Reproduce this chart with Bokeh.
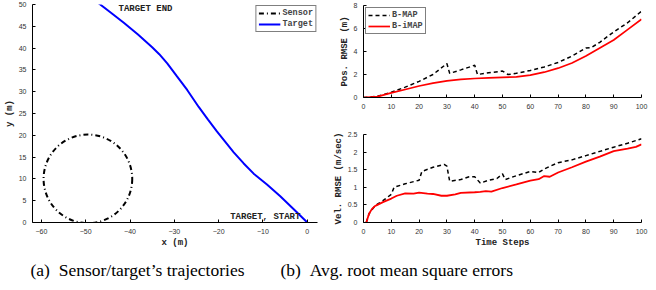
from bokeh.plotting import figure
from bokeh.layouts import row, column
from bokeh.models import (Range1d, SingleIntervalTicker, CustomJSTickFormatter, Label, Legend)
from bokeh.embed import file_html
from bokeh.resources import INLINE

# ---------------- data ----------------
target_x = [0, -3, -6.1, -9.1, -12.1, -14.4, -16.6, -18.5, -20.4, -22.4, -24.5, -27.1, -29.4, -31.6, -33.4, -35, -38.2, -41.4, -44.3, -47.1]
target_y = [0, 3.0, 6.0, 8.7, 11.2, 13.6, 16.1, 18.5, 20.9, 23.6, 26.5, 30.4, 33.5, 36.5, 38.6, 40.2, 43.1, 45.8, 48.1, 50.3]
sensor_center_x = [-49.5]
sensor_center_y = [10]
sensor_radius = [10]

bmap_pos_t = [0, 5, 10, 15, 20, 25, 30, 31, 35, 40, 41, 45, 50, 52, 55, 60, 65, 70, 75, 80, 82, 85, 90, 95, 100]
bmap_pos = [0, 0.1, 0.45, 0.9, 1.4, 2.0, 2.95, 2.1, 2.4, 2.8, 2.0, 2.15, 2.3, 2.0, 2.1, 2.35, 2.65, 3.05, 3.6, 4.3, 4.35, 4.8, 5.7, 6.5, 7.5]
imap_pos_t = [0, 5, 10, 15, 20, 25, 30, 35, 40, 45, 50, 55, 60, 65, 70, 75, 80, 85, 90, 95, 100]
imap_pos = [0, 0.08, 0.4, 0.7, 1.0, 1.25, 1.45, 1.57, 1.65, 1.7, 1.75, 1.8, 1.95, 2.2, 2.55, 3.0, 3.6, 4.3, 5.0, 5.9, 6.8]

bmap_vel_t = [1, 2, 4, 5, 7, 10, 11, 15, 20, 21, 25, 29, 30, 31, 35, 38, 40, 42, 45, 48, 50, 51, 55, 60, 63, 65, 70, 75, 80, 85, 90, 95, 100]
bmap_vel = [0, 0.25, 0.46, 0.52, 0.62, 0.8, 1.0, 1.1, 1.2, 1.45, 1.57, 1.65, 1.6, 1.17, 1.22, 1.3, 1.3, 1.12, 1.2, 1.25, 1.38, 1.22, 1.33, 1.45, 1.42, 1.52, 1.7, 1.78, 1.9, 2.02, 2.14, 2.25, 2.38]
imap_vel_t = [1, 2, 3, 4, 5, 7, 10, 12, 15, 18, 20, 23, 25, 28, 30, 33, 35, 40, 42, 44, 46, 50, 55, 60, 63, 65, 67, 70, 75, 80, 85, 90, 95, 98, 100]
imap_vel = [0, 0.25, 0.38, 0.46, 0.5, 0.58, 0.68, 0.76, 0.83, 0.82, 0.85, 0.82, 0.81, 0.76, 0.76, 0.8, 0.84, 0.86, 0.87, 0.89, 0.88, 0.98, 1.08, 1.19, 1.23, 1.32, 1.3, 1.42, 1.57, 1.73, 1.87, 2.03, 2.1, 2.15, 2.22]

caption_a = "(a)\u00a0\u00a0Sensor/target\u2019s trajectories"
caption_b = "(b)\u00a0\u00a0Avg. root mean square errors"

MONO = "Liberation Mono"
NAN = float("nan")


def style(p):
    p.outline_line_color = None
    p.grid.grid_line_color = None
    p.background_fill_color = "white"
    p.border_fill_color = "white"
    for ax in p.axis:
        ax.axis_line_color = "black"
        ax.axis_line_width = 1
        ax.major_tick_in = 3
        ax.major_tick_out = 0
        ax.major_tick_line_color = "black"
        ax.minor_tick_line_color = None
        ax.major_label_text_font = "Liberation Sans"
        ax.major_label_text_font_size = "7px"
        ax.major_label_text_color = "#333333"
        ax.major_label_standoff = 2
        ax.axis_label_text_font = MONO
        ax.axis_label_text_font_style = "bold"
        ax.axis_label_text_font_size = "9px"
        ax.axis_label_text_color = "#222222"
        ax.axis_label_standoff = 1


def style_legend(lg):
    lg.label_text_font = MONO
    lg.label_text_font_style = "bold"
    lg.label_text_font_size = "8.5px"
    lg.label_height = 8
    lg.glyph_height = 8
    lg.glyph_width = 22
    lg.label_standoff = 2
    lg.spacing = 1
    lg.padding = 2
    lg.margin = 1
    lg.border_line_color = "black"
    lg.border_line_width = 1.2
    lg.background_fill_alpha = 1


# ---------------- left figure ----------------
pa = figure(width=330, height=250, output_backend="svg", toolbar_location=None,
            x_range=Range1d(-62, 2.3), y_range=Range1d(0, 50),
            min_border_left=32, min_border_right=13, min_border_top=4, min_border_bottom=23)
pa.xaxis.ticker = SingleIntervalTicker(interval=10)
pa.yaxis.ticker = SingleIntervalTicker(interval=5)
pa.xaxis.formatter = CustomJSTickFormatter(code="return (tick < 0 ? '\\u2212' : '') + Math.abs(tick);")
pa.xaxis.axis_label = "x (m)"
pa.yaxis.axis_label = "y (m)"
style(pa)

pa.circle(x=sensor_center_x, y=sensor_center_y, radius=sensor_radius, fill_color=None,
          line_color="black", line_width=2, line_dash="5 3 1 3")
r_sensor = pa.line(x=[NAN], y=[NAN], line_color="black", line_width=2, line_dash="5 3 1 3")
r_target = pa.line(x=target_x, y=target_y, line_color="#0000ff", line_width=2)
lga = Legend(items=[("Sensor", [r_sensor]), ("Target", [r_target])], location="top_right")
style_legend(lga)
pa.add_layout(lga)

pa.add_layout(Label(x=-42.6, y=48.9, text="TARGET END", text_font=MONO, text_font_style="bold",
                    text_font_size="9px", text_baseline="middle", text_color="#222222"))
pa.add_layout(Label(x=-17.4, y=1.3, text="TARGET, START", text_font=MONO, text_font_style="bold",
                    text_font_size="9px", text_baseline="middle", text_color="#222222"))

# ---------------- right top ----------------
pb = figure(width=326, height=115, output_backend="svg", toolbar_location=None,
            x_range=Range1d(0, 100), y_range=Range1d(0, 8),
            min_border_left=30, min_border_right=15, min_border_top=5, min_border_bottom=18)
pb.xaxis.ticker = SingleIntervalTicker(interval=10)
pb.yaxis.ticker = SingleIntervalTicker(interval=2)
pb.yaxis.axis_label = "Pos. RMSE (m)"
style(pb)
r1 = pb.line(x=bmap_pos_t, y=bmap_pos, line_color="black", line_width=1.5, line_dash="4 3")
r2 = pb.line(x=imap_pos_t, y=imap_pos, line_color="#ff0000", line_width=1.7)
lgb = Legend(items=[("B-MAP", [r1]), ("B-iMAP", [r2])], location="top_left")
style_legend(lgb)
lgb.margin = 2
pb.add_layout(lgb)

# ---------------- right bottom ----------------
pc = figure(width=326, height=135, output_backend="svg", toolbar_location=None,
            x_range=Range1d(0, 100), y_range=Range1d(0, 2.5),
            min_border_left=30, min_border_right=15, min_border_top=19, min_border_bottom=23)
pc.xaxis.ticker = SingleIntervalTicker(interval=10)
pc.yaxis.ticker = SingleIntervalTicker(interval=0.5)
pc.yaxis.formatter = CustomJSTickFormatter(code="return parseFloat(tick.toFixed(2)).toString();")
pc.yaxis.axis_label = "Vel. RMSE (m/sec)"
pc.xaxis.axis_label = "Time Steps"
style(pc)
pc.line(x=bmap_vel_t, y=bmap_vel, line_color="black", line_width=1.5, line_dash="4 3")
pc.line(x=imap_vel_t, y=imap_vel, line_color="#ff0000", line_width=1.8)

# ---------------- captions ----------------
pcap = figure(width=656, height=40, output_backend="svg", toolbar_location=None,
              x_range=Range1d(0, 656), y_range=Range1d(0, 40),
              min_border=0, x_axis_type=None, y_axis_type=None)
pcap.outline_line_color = None
pcap.grid.grid_line_color = None
for txt, xs in ((caption_a, 30), (caption_b, 280)):
    pcap.add_layout(Label(x=xs, y=21, x_units="screen", y_units="screen", text=txt,
                          text_font="Liberation Serif", text_font_size="17.5px",
                          text_baseline="alphabetic", text_color="black"))

layout = column(row(pa, column(pb, pc, spacing=0), spacing=0), pcap, spacing=0)

open("out.html", "w").write(file_html(layout, INLINE))
